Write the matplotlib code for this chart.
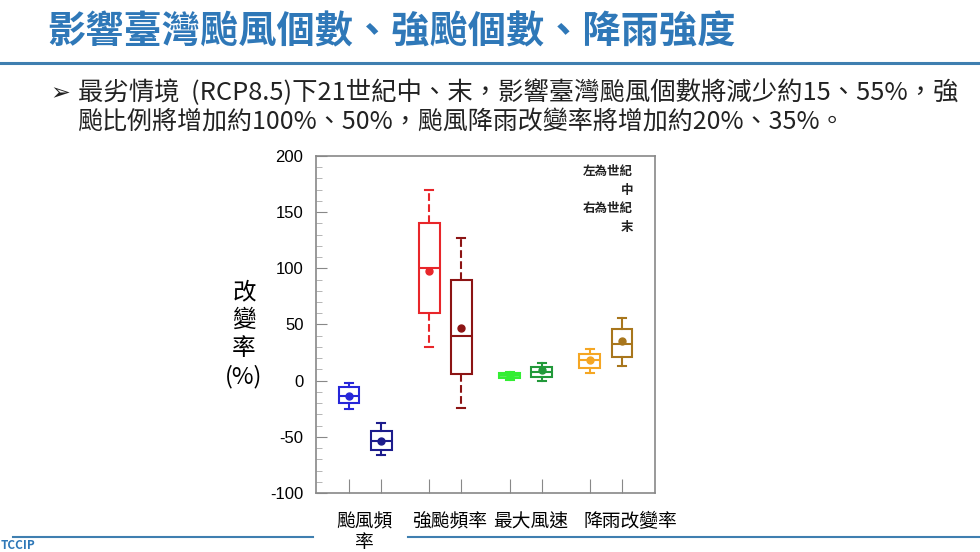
import matplotlib
matplotlib.use('Agg')
from matplotlib import pyplot as plt
from matplotlib.lines import Line2D

plt.rcParams['font.family'] = ['Noto Sans CJK TC', 'DejaVu Sans']
plt.rcParams['axes.unicode_minus'] = False

# box statistics: left box = mid century, right box = end of century
groups = ['颱風頻\n率', '強颱頻率', '最大風速', '降雨改變率']
positions = [1, 2, 3.5, 4.5, 6, 7, 8.5, 9.5]
whislo = [-25, -66, 30, -24, 1, 0, 7, 13]
q1 = [-20, -62, 60, 6, 2.5, 3, 11, 21]
med = [-13.5, -54, 100, 40, 5, 7.5, 18, 33]
q3 = [-6, -45, 140, 90, 7, 12.5, 24, 46]
whishi = [-2, -38, 170, 127, 8, 15.5, 28, 55.5]
means = [-13.5, -54, 98, 47, 5, 9.5, 18, 35]
colors = ['#2626d9', '#1c1c8c', '#e8262a', '#8c1414',
          '#33ee33', '#22993a', '#f5a623', '#a8761c']
fills = ['none', 'none', 'none', 'none', '#5cf05c', 'none', 'none', 'none']
dashed = [False, False, True, True, False, False, False, False]

W, H = 980, 552
fig = plt.figure(figsize=(W / 100, H / 100), dpi=100)
fig.patch.set_facecolor('white')


def fx(x):
    return x / W


def fy(y):
    return 1 - y / H


# slide header
fig.text(fx(47), fy(32), '影響臺灣颱風個數、強颱個數、降雨強度', fontsize=27.5,
         fontweight='bold', color='#2f78b8', va='center', ha='left')
fig.add_artist(Line2D([0, 1], [fy(63), fy(63)], color='#3f7fb0', lw=2.2))
fig.text(fx(50), fy(93), '➢', fontsize=17, color='#222222', va='center',
         family=['DejaVu Sans'])
fig.text(fx(78), fy(93), '最劣情境  (RCP8.5)下21世紀中、末，影響臺灣颱風個數將減少約15、55%，強',
         fontsize=18.3, color='#222222', va='center')
fig.text(fx(78), fy(122), '颱比例將增加約100%、50%，颱風降雨改變率將增加約20%、35%。',
         fontsize=18, color='#222222', va='center')
fig.add_artist(Line2D([fx(13), fx(313)], [fy(537), fy(537)], color='#3f7fb0', lw=1.5, zorder=0))
fig.add_artist(Line2D([fx(408), 1], [fy(537), fy(537)], color='#3f7fb0', lw=1.5, zorder=0))
fig.text(fx(1), fy(552), 'TCCIP', fontsize=8.5, color='#2f78b8', va='bottom',
         fontweight='bold')

ax = fig.add_axes([fx(316), fy(493), fx(655 - 316), (493 - 156) / H])
stats = []
for i in range(len(positions)):
    stats.append({'whislo': whislo[i], 'q1': q1[i], 'med': med[i], 'q3': q3[i],
                  'whishi': whishi[i], 'mean': means[i], 'fliers': []})

for i, st in enumerate(stats):
    c = colors[i]
    ls = '--' if dashed[i] else '-'
    ax.bxp([st], positions=[positions[i]], widths=0.65, showmeans=True,
           showfliers=False, capwidths=0.25, patch_artist=True,
           boxprops=dict(edgecolor=c, facecolor=fills[i], lw=1.5),
           medianprops=dict(color=c, lw=1.5),
           whiskerprops=dict(color=c, lw=1.5, linestyle=ls),
           capprops=dict(color=c, lw=1.5),
           meanprops=dict(marker='o', markerfacecolor=c, markeredgecolor=c,
                          markersize=5))

ax.set_xlim(-0.03, 10.53)
ax.set_ylim(-100, 200)
ax.set_yticks([-100, -50, 0, 50, 100, 150, 200])
ax.set_yticks(range(-100, 201, 10), minor=True)
ax.tick_params(axis='y', which='major', direction='in', length=8, labelsize=12,
               color='#888888', right=False, pad=9)
ax.tick_params(axis='y', which='minor', direction='in', length=4, color='#aaaaaa')
for lab in ax.get_yticklabels():
    lab.set_family(['Liberation Sans'])
ax.set_xticks(positions)
ax.set_xticklabels([''] * len(positions))
ax.tick_params(axis='x', which='major', direction='in', length=10, color='#888888')
ax.set_xticks([1.47, 4.14, 6.67, 9.75], minor=True)
ax.set_xticklabels(groups, minor=True, fontsize=13.5, linespacing=1.0)
ax.tick_params(axis='x', which='minor', length=0, pad=13)
for s in ax.spines.values():
    s.set_color('#888888')
    s.set_linewidth(1.2)

fig.text(fx(244), fy(335), '改\n變\n率\n(%)', fontsize=17, ha='center', va='center',
         linespacing=1.26)
ax.text(0.935, 0.972, '左為世紀\n中\n右為世紀\n末', transform=ax.transAxes,
        ha='right', va='top', fontsize=9, fontweight='bold', color='#222222',
        linespacing=1.55)

fig.savefig('out.png', dpi=100, facecolor='white')
